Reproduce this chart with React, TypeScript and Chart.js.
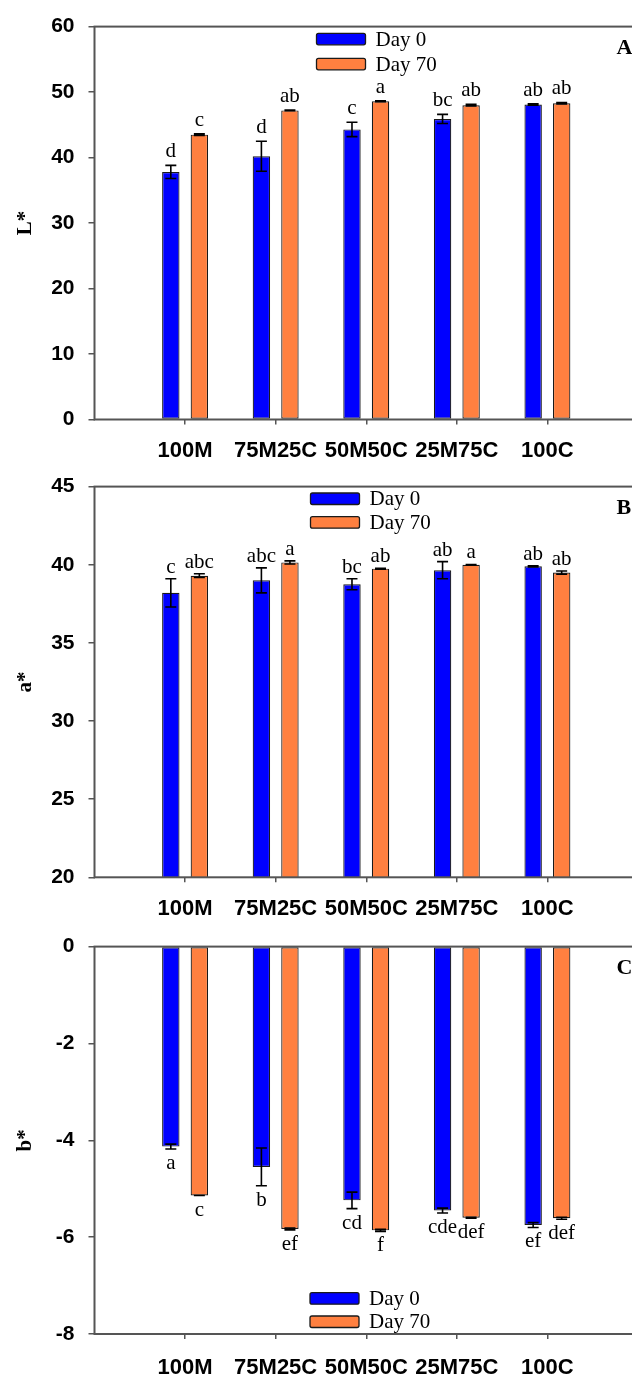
import React, { useEffect, useRef } from "react";
import { Chart, registerables } from "chart.js";

Chart.register(...registerables);

// ---------- data ----------
const categories = ["100M", "75M25C", "50M50C", "25M75C", "100C"];
const seriesLabels = ["Day 0", "Day 70"];
const seriesColors = ["#0000ff", "#ff8040"];
const panelLetters = ["A", "B", "C"];

// Panel A: L*
const lTitle = "L*";
const lDay0 = [37.8, 40.2, 44.3, 45.9, 48.1];
const lDay70 = [43.5, 47.2, 48.6, 48.0, 48.3];
const lErr0 = [1.0, 2.3, 1.1, 0.7, 0.12];
const lErr70 = [0.12, 0.05, 0.05, 0.12, 0.12];
const lSig0 = ["d", "d", "c", "bc", "ab"];
const lSig70 = ["c", "ab", "a", "ab", "ab"];
const lTicks = [0, 10, 20, 30, 40, 50, 60];

// Panel B: a*
const aTitle = "a*";
const aDay0 = [38.2, 39.0, 38.75, 39.65, 39.9];
const aDay70 = [39.3, 40.15, 39.75, 40.0, 39.5];
const aErr0 = [0.9, 0.8, 0.35, 0.55, 0.04];
const aErr70 = [0.12, 0.1, 0.03, 0.02, 0.1];
const aSig0 = ["c", "abc", "bc", "ab", "ab"];
const aSig70 = ["abc", "a", "ab", "a", "ab"];
const aTicks = [20, 25, 30, 35, 40, 45];

// Panel C: b*
const bTitle = "b*";
const bDay0 = [-4.13, -4.55, -5.24, -5.45, -5.75];
const bDay70 = [-5.14, -5.83, -5.86, -5.6, -5.61];
const bErr0 = [0.05, 0.39, 0.17, 0.05, 0.05];
const bErr70 = [0.0, 0.02, 0.02, 0.01, 0.02];
const bSig0 = ["a", "b", "cd", "cde", "ef"];
const bSig70 = ["c", "ef", "f", "def", "def"];
const bTicks = [-8, -6, -4, -2, 0];

// ---------- helpers ----------
const pad = (arr: any[]) => [null, ...arr, null];
const CANVAS_W = 660;
const AXIS_GRAY = "#555";
const SANS = '"Liberation Sans", Arial, sans-serif';
const SERIF = '"Liberation Serif", "Times New Roman", serif';

const framePlugin = {
  id: "frame",
  afterDatasetsDraw(chart: any) {
    const { ctx, chartArea: a } = chart;
    ctx.save();
    ctx.strokeStyle = AXIS_GRAY;
    ctx.lineWidth = 2;
    ctx.strokeRect(a.left, a.top, a.right - a.left, a.bottom - a.top);
    ctx.restore();
  },
};

const errPlugin = {
  id: "errLetters",
  afterDatasetsDraw(chart: any, _args: any, opts: any) {
    const { ctx } = chart;
    const ys = chart.scales.y;
    chart.data.datasets.forEach((ds: any, i: number) => {
      const meta = chart.getDatasetMeta(i);
      meta.data.forEach((el: any, j: number) => {
        const v = ds.data[j];
        if (v == null) return;
        const e = opts.errors[i][j] ?? 0;
        const yHi = ys.getPixelForValue(v + e);
        const yLo = ys.getPixelForValue(v - e);
        const x = el.x;
        const cw = opts.capWidth / 2;
        ctx.save();
        ctx.strokeStyle = "#000";
        ctx.lineWidth = 1.6;
        ctx.beginPath();
        ctx.moveTo(x, yHi);
        ctx.lineTo(x, yLo);
        ctx.moveTo(x - cw, yHi);
        ctx.lineTo(x + cw, yHi);
        ctx.moveTo(x - cw, yLo);
        ctx.lineTo(x + cw, yLo);
        ctx.stroke();
        const txt = opts.letters[i][j];
        if (txt) {
          ctx.font = `21px ${SERIF}`;
          ctx.fillStyle = "#000";
          ctx.textAlign = "center";
          ctx.textBaseline = "alphabetic";
          if (v >= 0) ctx.fillText(txt, x, Math.min(yHi, el.y) - opts.gapAbove);
          else ctx.fillText(txt, x, Math.max(yLo, el.y) + opts.gapBelow);
        }
        ctx.restore();
      });
    });
  },
};

const legendPlugin = {
  id: "boxLegend",
  afterDraw(chart: any, _args: any, opts: any) {
    const { ctx } = chart;
    chart.data.datasets.forEach((ds: any, i: number) => {
      const x = opts.x;
      const y = opts.y + i * opts.rowGap;
      const w = 49;
      const h = 11.5;
      ctx.save();
      ctx.beginPath();
      (ctx as any).roundRect(x, y, w, h, 2);
      ctx.fillStyle = ds.backgroundColor;
      ctx.fill();
      ctx.strokeStyle = "#1a1a1a";
      ctx.lineWidth = 1.3;
      ctx.stroke();
      ctx.font = `21px ${SERIF}`;
      ctx.fillStyle = "#000";
      ctx.textAlign = "left";
      ctx.textBaseline = "middle";
      ctx.fillText(ds.label, x + w + 10, y + h / 2 + 1);
      ctx.restore();
    });
  },
};

const panelLetterPlugin = {
  id: "panelLetter",
  afterDraw(chart: any, _args: any, opts: any) {
    const { ctx, chartArea: a } = chart;
    ctx.save();
    ctx.font = `bold 22px ${SERIF}`;
    ctx.fillStyle = "#000";
    ctx.textAlign = "left";
    ctx.textBaseline = "alphabetic";
    ctx.fillText(opts.text, a.left + 522, a.top + 27);
    ctx.restore();
  },
};

type Panel = {
  title: string;
  day0: number[];
  day70: number[];
  err0: number[];
  err70: number[];
  sig0: string[];
  sig70: string[];
  ticks: number[];
  letter: string;
  height: number;
  top: number;
  bottom: number;
  labelPad: number;
  gapAbove: number;
  legend: { x: number; y: number; rowGap: number };
};

const AREA_LEFT = 94.5;
const AREA_RIGHT = 638;

function makeConfig(p: Panel): any {
  const tMin = Math.min(...p.ticks);
  const tMax = Math.max(...p.ticks);
  return {
    type: "bar",
    data: {
      labels: ["", ...categories, ""],
      datasets: [
        {
          label: seriesLabels[0],
          data: pad(p.day0),
          backgroundColor: seriesColors[0],
          borderColor: "#1a1a1a",
          borderWidth: 1.2,
          borderSkipped: false,
        },
        {
          label: seriesLabels[1],
          data: pad(p.day70),
          backgroundColor: seriesColors[1],
          borderColor: "#1a1a1a",
          borderWidth: 1.2,
          borderSkipped: false,
        },
      ],
    },
    options: {
      responsive: false,
      animation: false,
      events: [],
      layout: {
        padding: { top: p.top, right: CANVAS_W - AREA_RIGHT, left: 0, bottom: 0 },
      },
      datasets: {
        bar: { categoryPercentage: 0.63, barPercentage: 0.61 },
      },
      plugins: {
        legend: { display: false },
        tooltip: { enabled: false },
        errLetters: {
          errors: [pad(p.err0), pad(p.err70)],
          letters: [pad(p.sig0), pad(p.sig70)],
          capWidth: 11,
          gapAbove: p.gapAbove,
          gapBelow: 20,
        },
        boxLegend: p.legend,
        panelLetter: { text: p.letter },
      },
      scales: {
        x: {
          type: "category",
          offset: false,
          afterBuildTicks: (s: any) => {
            s.ticks = s.ticks.filter((t: any) => t.value >= 1 && t.value <= categories.length);
          },
          afterFit: (s: any) => {
            s.height = p.height - p.bottom;
          },
          grid: {
            offset: false,
            drawOnChartArea: false,
            drawTicks: true,
            tickLength: 5,
            color: AXIS_GRAY,
            lineWidth: 1.5,
          },
          border: { display: false },
          ticks: {
            autoSkip: false,
            maxRotation: 0,
            padding: p.labelPad,
            color: "#000",
            font: { family: SANS, size: 22, weight: "bold" },
          },
        },
        y: {
          type: "linear",
          min: tMin,
          max: tMax,
          afterBuildTicks: (s: any) => {
            s.ticks = p.ticks.map((v) => ({ value: v }));
          },
          afterFit: (s: any) => {
            s.width = AREA_LEFT;
          },
          grid: {
            drawOnChartArea: false,
            drawTicks: true,
            tickLength: 6,
            color: AXIS_GRAY,
            lineWidth: 1.5,
          },
          border: { display: false },
          ticks: {
            padding: 14,
            color: "#000",
            font: { family: SANS, size: 21, weight: "bold" },
          },
          title: {
            display: true,
            text: p.title,
            color: "#000",
            font: { family: SERIF, size: 21, weight: "bold" },
            padding: { top: 13, bottom: 0 },
          },
        },
      },
    },
    plugins: [framePlugin, errPlugin, legendPlugin, panelLetterPlugin],
  };
}

const panels: Panel[] = [
  {
    title: lTitle, day0: lDay0, day70: lDay70, err0: lErr0, err70: lErr70,
    sig0: lSig0, sig70: lSig70, ticks: lTicks, letter: panelLetters[0],
    height: 460, top: 26.5, bottom: 419.5, labelPad: 13, gapAbove: 8,
    legend: { x: 316.5, y: 33.3, rowGap: 25 },
  },
  {
    title: aTitle, day0: aDay0, day70: aDay70, err0: aErr0, err70: aErr70,
    sig0: aSig0, sig70: aSig70, ticks: aTicks, letter: panelLetters[1],
    height: 460, top: 24, bottom: 417.3, labelPad: 13, gapAbove: 6,
    legend: { x: 310.5, y: 33, rowGap: 23.7 },
  },
  {
    title: bTitle, day0: bDay0, day70: bDay70, err0: bErr0, err70: bErr70,
    sig0: bSig0, sig70: bSig70, ticks: bTicks, letter: panelLetters[2],
    height: 456, top: 20.7, bottom: 414, labelPad: 16, gapAbove: 7,
    legend: { x: 310, y: 372.7, rowGap: 23.3 },
  },
];

const offsets = [0, 460, 920];

export default function App() {
  const r0 = useRef<HTMLCanvasElement>(null);
  const r1 = useRef<HTMLCanvasElement>(null);
  const r2 = useRef<HTMLCanvasElement>(null);
  const refs = [r0, r1, r2];

  useEffect(() => {
    const charts = refs.map((r, i) => new Chart(r.current as HTMLCanvasElement, makeConfig(panels[i])));
    return () => charts.forEach((c) => c.destroy());
  }, []);

  return (
    <div
      style={{
        position: "fixed",
        left: 0,
        top: 0,
        width: 632,
        height: 1376,
        overflow: "hidden",
        background: "#fff",
      }}
    >
      {panels.map((p, i) => (
        <canvas
          key={i}
          ref={refs[i]}
          width={CANVAS_W}
          height={p.height}
          style={{
            position: "absolute",
            left: 0,
            top: offsets[i],
            width: CANVAS_W,
            height: p.height,
          }}
        />
      ))}
    </div>
  );
}
